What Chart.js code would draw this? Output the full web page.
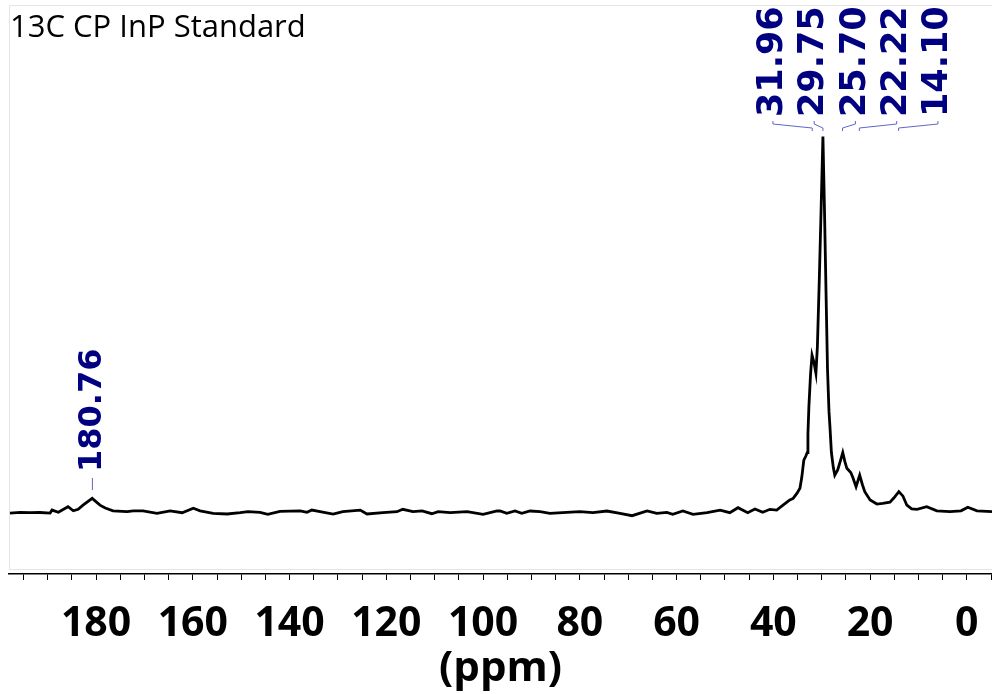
<!DOCTYPE html>
<html>
<head>
<meta charset="utf-8">
<title>13C CP InP Standard</title>
<script src="https://cdn.jsdelivr.net/npm/chart.js@4/dist/chart.umd.min.js"></script>
<style>
    body { margin: 0; background: #fff; }
    canvas { display: block; }
</style>
</head>
<body>
<canvas id="spektrum" width="992" height="694"></canvas>
<script>

// chemical shift (ppm) and intensity
const ppm = [
    197.8, 195.7, 193.6, 191.6, 189.5, 189.1, 187.8, 185.8, 184.7, 183.7,
    182.7, 180.8, 179.2, 178.1, 176.5, 173.6, 172.3, 170.3, 167.4, 164.7,
    162.2, 159.9, 158.5, 155.8, 152.9, 150.2, 148.6, 146.1, 144.5, 142.0,
    137.8, 136.4, 135.4, 133.7, 131.0, 129.0, 125.4, 124.0, 120.7, 117.8,
    116.6, 114.5, 112.6, 110.6, 109.3, 106.8, 103.3, 100.0, 97.1, 96.5,
    95.1, 93.4, 92.0, 90.3, 88.2, 86.2, 82.7, 80.0, 77.3, 74.4,
    71.7, 69.2, 66.1, 64.1, 62.0, 60.8, 58.7, 56.6, 53.7, 51.0,
    49.0, 47.3, 45.3, 43.8, 42.2, 40.7, 39.3, 38.0, 36.6, 35.9,
    35.1, 34.5, 34.1, 33.7, 33.3, 33.0, 32.85, 32.65, 32.3, 32.0,
    31.6, 31.2, 30.9, 30.5, 30.1, 29.75, 29.45, 29.1, 28.8, 28.5,
    28.3, 28.0, 27.6, 27.3, 26.7, 26.2, 25.65, 25.2, 24.8, 24.0,
    23.6, 22.9, 22.15, 21.6, 21.1, 20.0, 18.6, 17.4, 15.9, 15.1,
    14.05, 13.2, 12.4, 11.4, 10.3, 8.3, 6.2, 3.5, 1.2, -0.2,
    -2.1, -5.2
];

const intensitas = [
    -0.1, 0.1, 0.0, 0.05, -0.1, 0.7, 0.1, 1.6, 0.5, 0.9,
    2.0, 3.8, 2.0, 1.25, 0.5, 0.27, 0.5, 0.5, -0.16, 0.5,
    0.0, 1.17, 0.5, -0.16, -0.35, 0.0, 0.27, 0.1, -0.43, 0.37,
    0.5, 0.1, 0.7, 0.27, -0.35, 0.27, 0.7, -0.35, 0.0, 0.27,
    0.9, 0.27, 0.5, -0.27, 0.27, 0.0, 0.27, -0.43, 0.45, 0.5,
    -0.16, 0.45, -0.16, 0.45, 0.27, -0.16, 0.1, 0.27, 0.0, 0.45,
    -0.16, -0.8, 0.45, -0.16, 0.1, -0.43, 0.45, -0.43, 0.0, 0.7,
    0.0, 1.33, 0.0, 1.0, 0.1, 0.9, 0.7, 2.0, 3.4, 3.8,
    5.2, 6.5, 9.6, 14.0, 15.0, 16.0, 21.0, 28.2, 37.0, 41.9,
    40.0, 37.1, 44.0, 62.0, 82.0, 100.0, 82.0, 58.0, 38.0, 27.0,
    22.9, 16.0, 12.0, 10.0, 11.4, 13.5, 16.0, 13.5, 11.8, 10.7,
    9.5, 6.9, 10.0, 7.5, 5.6, 3.4, 2.3, 2.5, 2.8, 3.9,
    5.6, 4.4, 2.0, 1.0, 0.9, 1.6, 0.5, 0.27, 0.5, 1.44,
    0.5, 0.27
];

// labelled peaks
const puncakGrup = [31.96, 29.75, 25.70, 22.22, 14.10];
const puncakTunggal = [180.76];

// axis
const labelSumbu = [180, 160, 140, 120, 100, 80, 60, 40, 20, 0];
const langkahTick = 5;
const batasX = [-5.2, 198];
const batasY = [-16.3, 135.0];

const judul = "13C CP InP Standard";
const judulSumbu = "(ppm)";

const dataSpektrum = ppm.map((p, i) => ({ x: p, y: intensitas[i] }));

function teksPuncak(nilai){
    return nilai.toFixed(2);
}

const pluginBingkai = {
    id: "bingkai",
    beforeDatasetsDraw(chart){
        const { ctx, chartArea } = chart;
        ctx.save();
        ctx.strokeStyle = "#e4e4e4";
        ctx.lineWidth = 1;
        ctx.beginPath();
        ctx.moveTo(chartArea.left + 0.5, chartArea.bottom - 4);
        ctx.lineTo(chartArea.left + 0.5, chartArea.top + 0.5);
        ctx.lineTo(chartArea.right, chartArea.top + 0.5);
        ctx.moveTo(chartArea.left + 0.5, chartArea.bottom - 4.5);
        ctx.lineTo(chartArea.right, chartArea.bottom - 4.5);
        ctx.stroke();

        ctx.fillStyle = "#000";
        ctx.font = "31px 'Open Sans'";
        ctx.textAlign = "left";
        ctx.textBaseline = "alphabetic";
        ctx.fillText(judul, chartArea.left + 1, chartArea.top + 32);
        ctx.restore();
    }
};

const pluginPuncak = {
    id: "labelPuncak",
    afterDatasetsDraw(chart){
        const { ctx, chartArea } = chart;
        const sx = chart.scales.x;
        const top = chartArea.top;

        ctx.save();
        ctx.font = "bold 35px 'DejaVu Sans'";
        ctx.textBaseline = "middle";
        ctx.textAlign = "left";

        // group of labels spread out above the main peak
        const px = puncakGrup.map(p => sx.getPixelForValue(p));
        const tengah = (Math.min(...px) + Math.max(...px)) / 2;
        const jarak = 41.25;

        puncakGrup.forEach((p, i) => {
            const lx = tengah + (i - (puncakGrup.length - 1) / 2) * jarak;

            ctx.strokeStyle = "#6464c8";
            ctx.lineWidth = 1;
            ctx.beginPath();
            ctx.moveTo(lx, top + 116);
            ctx.lineTo(lx, top + 119);
            ctx.lineTo(px[i], top + 123);
            ctx.lineTo(px[i], top + 126);
            ctx.stroke();

            ctx.save();
            ctx.translate(lx, top + 112);
            ctx.rotate(-Math.PI / 2);
            ctx.fillStyle = "#000080";
            ctx.fillText(teksPuncak(p), 0, 0);
            ctx.restore();
        });

        // single label on the carboxyl peak
        ctx.font = "bold 32px 'DejaVu Sans'";
        puncakTunggal.forEach(p => {
            const x = sx.getPixelForValue(p);

            ctx.strokeStyle = "#6464c8";
            ctx.lineWidth = 1;
            ctx.beginPath();
            ctx.moveTo(x, top + 473);
            ctx.lineTo(x, top + 485);
            ctx.stroke();

            ctx.save();
            ctx.translate(x, top + 467);
            ctx.rotate(-Math.PI / 2);
            ctx.fillStyle = "#000080";
            ctx.fillText(teksPuncak(p), 0, 0);
            ctx.restore();
        });

        ctx.restore();
    }
};

new Chart(document.getElementById("spektrum"), {

    type: "line",

    data: {
        datasets: [{
            data: dataSpektrum,
            borderColor: "#000",
            borderWidth: 2.8,
            pointRadius: 0,
            tension: 0,
            fill: false
        }]
    },

    options: {
        responsive: false,
        animation: false,
        layout: {
            autoPadding: false,
            padding: { left: 9, top: 5, right: 0, bottom: 0 }
        },
        plugins: {
            legend: { display: false },
            tooltip: { enabled: false }
        },
        scales: {
            x: {
                type: "linear",
                reverse: true,
                min: batasX[0],
                max: batasX[1],
                afterFit: s => {
                    s.height = 120;
                    s.paddingLeft = 0;
                    s.paddingRight = 0;
                },
                afterBuildTicks: s => {
                    const ticks = [];
                    for (let v = Math.ceil(batasX[0] / langkahTick) * langkahTick; v <= batasX[1]; v += langkahTick) {
                        ticks.push({ value: v });
                    }
                    s.ticks = ticks;
                },
                border: { color: "#000", width: 1.5 },
                grid: {
                    drawOnChartArea: false,
                    drawTicks: true,
                    tickLength: 6,
                    tickColor: "#000",
                    tickWidth: 1
                },
                ticks: {
                    autoSkip: false,
                    maxRotation: 0,
                    padding: 20,
                    color: "#000",
                    font: { family: "'Open Sans'", size: 41, weight: "bold" },
                    callback: v => labelSumbu.includes(v) ? String(v) : ""
                },
                title: {
                    display: true,
                    text: judulSumbu,
                    color: "#000",
                    font: { family: "'Open Sans'", size: 42, weight: "bold" },
                    padding: { top: 0, bottom: 0 }
                }
            },
            y: {
                display: false,
                min: batasY[0],
                max: batasY[1]
            }
        }
    },

    plugins: [pluginBingkai, pluginPuncak]
});

</script>
</body>
</html>
